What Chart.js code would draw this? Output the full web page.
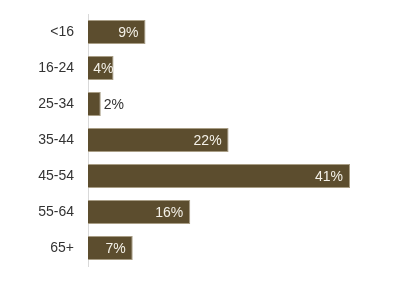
<!DOCTYPE html>
<html>
<head>
<meta charset="utf-8">
<script src="https://cdn.jsdelivr.net/npm/chart.js@4/dist/chart.umd.min.js"></script>
<style>
  html, body { margin: 0; padding: 0; background: #fff; }
  #wrap { width: 405px; height: 288px; }
</style>
</head>
<body>
<div id="wrap"><canvas id="ageChart"></canvas></div>
<script>
// 연령대별 비율
const ageGroups = ['<16', '16-24', '25-34', '35-44', '45-54', '55-64', '65+'];
const sharePct = [9, 4, 2, 22, 41, 16, 7];

// 막대 위에 값 표시
const valueLabels = {
    id: 'valueLabels',
    afterDatasetsDraw(chart) {
        const ctx = chart.ctx;
        const meta = chart.getDatasetMeta(0);
        ctx.save();
        ctx.font = '14px "Liberation Sans", Arial, sans-serif';
        ctx.textBaseline = 'middle';
        meta.data.forEach((bar, i) => {
            const p = bar.getProps(['x', 'y', 'base'], true);
            const text = sharePct[i] + '%';
            const w = p.x - p.base;
            const tw = ctx.measureText(text).width;
            if (w < 20) {
                ctx.fillStyle = '#333';
                ctx.textAlign = 'left';
                ctx.fillText(text, p.x + 3, p.y + 1);
            } else {
                // 좁은 막대는 안쪽 여백을 줄임
                const gap = Math.max(0, Math.min(7, w - tw - 6));
                ctx.fillStyle = '#f4f1e8';
                ctx.textAlign = 'right';
                ctx.fillText(text, p.x - gap, p.y + 1);
            }
        });
        ctx.restore();
    }
};

new Chart(document.getElementById('ageChart'), {
    type: 'bar',
    data: {
        labels: ageGroups,
        datasets: [{
            data: sharePct,
            backgroundColor: '#5c4d2e',
            borderColor: '#a89d85',
            borderWidth: 1,
            borderSkipped: 'start',
            categoryPercentage: 1,
            barPercentage: 0.667
        }]
    },
    options: {
        indexAxis: 'y',
        responsive: true,
        maintainAspectRatio: false,
        animation: false,
        layout: { padding: { top: 14, bottom: 22, left: 0, right: 55 } },
        plugins: {
            legend: { display: false },
            tooltip: { enabled: false }
        },
        scales: {
            x: {
                display: false,
                min: 0,
                max: 41
            },
            y: {
                grid: { display: false, drawTicks: false },
                border: { display: true, color: '#d9d9d9', width: 1 },
                ticks: {
                    color: '#333',
                    padding: 14,
                    font: { size: 14, family: '"Liberation Sans", Arial, sans-serif' }
                },
                afterFit(scale) {
                    scale.width = 88;
                    scale.paddingTop = 0;
                    scale.paddingBottom = 0;
                }
            }
        }
    },
    plugins: [valueLabels]
});
</script>
</body>
</html>
